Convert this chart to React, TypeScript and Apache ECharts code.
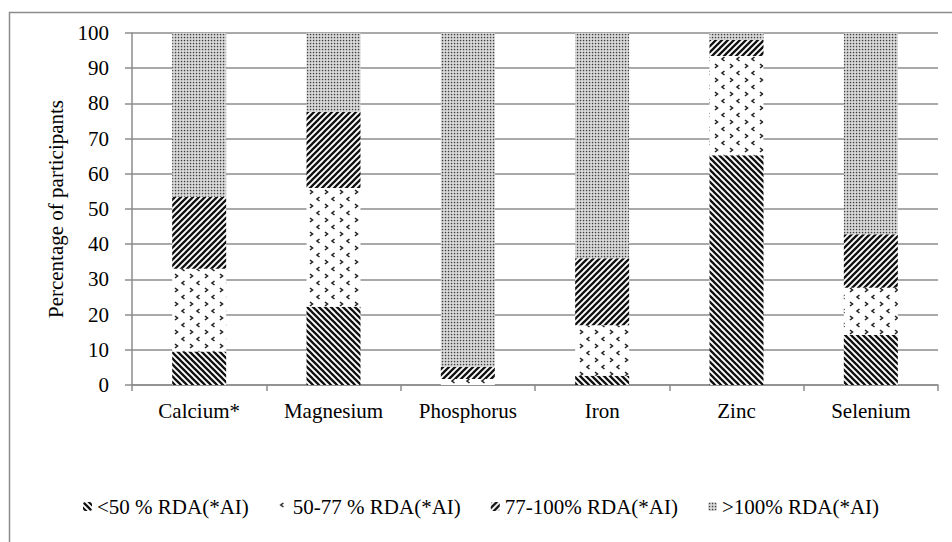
import React, { useEffect, useRef } from "react";
import * as echarts from "echarts";

const categories = ["Calcium*", "Magnesium", "Phosphorus", "Iron", "Zinc", "Selenium"];
const seriesNames = ["<50 % RDA(*AI)", "50-77 % RDA(*AI)", "77-100% RDA(*AI)", ">100% RDA(*AI)"];
const below50 = [9.5, 22.2, 0, 2.6, 65.3, 14.2];
const from50to77 = [23.5, 33.8, 1.7, 14.4, 28.2, 13.4];
const from77to100 = [20.5, 21.6, 3.5, 19.0, 4.5, 15.2];
const above100 = [46.5, 22.4, 94.8, 64.0, 2.0, 57.2];
const yTicks = [0, 10, 20, 30, 40, 50, 60, 70, 80, 90, 100];

const FONT = "Liberation Serif";

function svgUrl(svg: string) {
  return "data:image/svg+xml;charset=utf-8," + encodeURIComponent(svg);
}

const stripeDown = svgUrl(
  '<svg xmlns="http://www.w3.org/2000/svg" width="6" height="6"><rect width="6" height="6" fill="#fff"/><path d="M-1,-1 L7,7 M-1,5 L1,7 M5,-1 L7,1" stroke="#111" stroke-width="2.3"/></svg>'
);
const stripeUp = svgUrl(
  '<svg xmlns="http://www.w3.org/2000/svg" width="6" height="6"><rect width="6" height="6" fill="#fff"/><path d="M-1,7 L7,-1 M-1,1 L1,-1 M5,7 L7,5" stroke="#111" stroke-width="2.3"/></svg>'
);
const chevrons = svgUrl(
  '<svg xmlns="http://www.w3.org/2000/svg" width="15" height="14"><rect width="15" height="14" fill="#fff"/><path d="M4.5,1 L2,3 L4.5,5 M10,8 L12.5,10 L10,12" stroke="#222" stroke-width="1.6" fill="none"/></svg>'
);
const dots = svgUrl(
  '<svg xmlns="http://www.w3.org/2000/svg" width="3" height="3"><rect width="3" height="3" fill="#e2e2e2"/><rect x="0.8" y="0.8" width="1.5" height="1.5" fill="#404040"/></svg>'
);

const patterns = [
  { image: stripeDown, repeat: "repeat", imageWidth: 6, imageHeight: 6 },
  { image: chevrons, repeat: "repeat", imageWidth: 15, imageHeight: 14 },
  { image: stripeUp, repeat: "repeat", imageWidth: 6, imageHeight: 6 },
  { image: dots, repeat: "repeat", imageWidth: 3, imageHeight: 3 },
];

export default function App() {
  const ref = useRef<HTMLDivElement>(null);
  useEffect(() => {
    if (!ref.current) return;
    const chart = echarts.init(ref.current, null, { renderer: "svg" });
    const data = [below50, from50to77, from77to100, above100];
    const option: any = {
      animation: false,
      backgroundColor: "#fff",
      textStyle: { fontFamily: FONT },
      graphic: [
        {
          type: "rect",
          shape: { x: 9.5, y: 12.5, width: 1000, height: 600 },
          style: { fill: "none", stroke: "#8c8c8c", lineWidth: 1.5 },
          silent: true,
        },
      ],
      grid: { left: 132, right: 14, top: 33, bottom: 157 },
      legend: {
        data: seriesNames,
        bottom: 20,
        left: 78,
        itemWidth: 9,
        itemHeight: 9,
        itemGap: 30,
        textStyle: { fontFamily: FONT, fontSize: 21, color: "#000" },
      },
      xAxis: {
        type: "category",
        data: categories,
        axisLine: { lineStyle: { color: "#8c8c8c", width: 1.5 } },
        axisTick: { show: true, length: 6, lineStyle: { color: "#8c8c8c", width: 1.5 } },
        axisLabel: { fontFamily: FONT, fontSize: 21, color: "#000", margin: 15 },
      },
      yAxis: {
        type: "value",
        min: yTicks[0],
        max: yTicks[yTicks.length - 1],
        interval: 10,
        name: "Percentage of participants",
        nameLocation: "middle",
        nameGap: 64,
        nameTextStyle: { fontFamily: FONT, fontSize: 21, color: "#000" },
        axisLine: { show: true, lineStyle: { color: "#8c8c8c", width: 1.5 } },
        axisTick: { show: true, length: 7, lineStyle: { color: "#8c8c8c", width: 1.5 } },
        axisLabel: { fontFamily: FONT, fontSize: 21, color: "#000", margin: 23 },
        splitLine: { lineStyle: { color: "#8c8c8c", width: 1.5 } },
      },
      series: seriesNames.map((name, i) => ({
        name,
        type: "bar",
        stack: "total",
        barWidth: 54,
        data: data[i],
        itemStyle: { color: patterns[i] },
        emphasis: { disabled: true },
      })),
    };
    chart.setOption(option);
    return () => chart.dispose();
  }, []);
  return (
    <div
      ref={ref}
      style={{ position: "fixed", left: 0, top: 0, width: 952, height: 542 }}
    />
  );
}
